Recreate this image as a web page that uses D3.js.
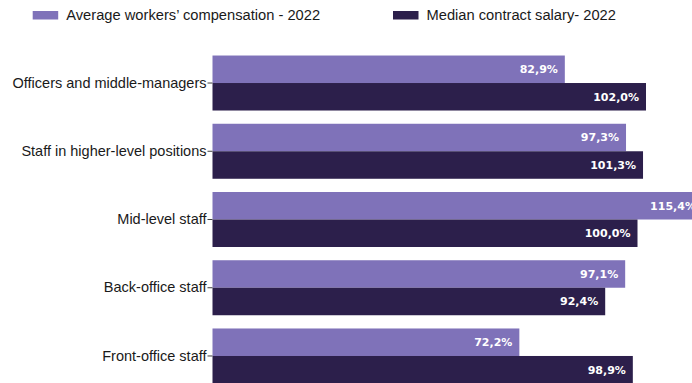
<!DOCTYPE html>
<html>
<head>
<meta charset="utf-8">
<script src="https://cdn.jsdelivr.net/npm/d3@7"></script>
<style>
  html, body { margin: 0; padding: 0; background: #fff; }
  svg { display: block; }
</style>
</head>
<body>
<div id="chart"></div>
<script>
// Role categories, top to bottom
const categories = [
  "Officers and middle-managers",
  "Staff in higher-level positions",
  "Mid-level staff",
  "Back-office staff",
  "Front-office staff"
];
// Series names (legend)
const seriesNames = [
  "Average workers’ compensation - 2022",
  "Median contract salary- 2022"
];
// Values in percent
const avgCompensation = [82.9, 97.3, 115.4, 97.1, 72.2];
const medianSalary    = [102.0, 101.3, 100.0, 92.4, 98.9];
const seriesColors = ["#7f72b9", "#2c1f4b"];

const W = 692, H = 383;
const svg = d3.select("#chart").append("svg")
  .attr("width", W).attr("height", H);

const data = categories.map((c, i) => ({
  cat: c, values: [avgCompensation[i], medianSalary[i]]
}));

const x = d3.scaleLinear().domain([0, 100]).range([212.5, 637.5]);

const y = d3.scaleBand()
  .domain(categories)
  .range([48.9, 390.1])
  .paddingInner(0.194)
  .paddingOuter(0.097);

const ySub = d3.scaleBand()
  .domain([0, 1])
  .range([0, y.bandwidth()]);

const fmt = v => d3.format(".1f")(v).replace(".", ",") + "%";

// Bars
const groups = svg.append("g").selectAll("g")
  .data(data).join("g")
  .attr("transform", d => `translate(0,${y(d.cat)})`);

groups.selectAll("rect")
  .data(d => d.values.map((v, k) => ({ v, k })))
  .join("rect")
  .attr("x", x(0))
  .attr("y", d => ySub(d.k))
  .attr("width", d => x(d.v) - x(0))
  .attr("height", ySub.bandwidth())
  .attr("fill", d => seriesColors[d.k]);

// Value labels inside bar ends
groups.selectAll("text")
  .data(d => d.values.map((v, k) => ({ v, k })))
  .join("text")
  .attr("x", d => x(d.v) - 7)
  .attr("y", d => ySub(d.k) + ySub.bandwidth() / 2)
  .attr("dy", "0.35em")
  .attr("text-anchor", "end")
  .attr("fill", "#ffffff")
  .attr("font-family", "DejaVu Sans, sans-serif")
  .attr("font-weight", "bold")
  .attr("font-size", "11px")
  .text(d => fmt(d.v));

// Category axis
const yAxis = svg.append("g")
  .attr("transform", `translate(${x(0)},0)`)
  .call(d3.axisLeft(y).tickSize(5).tickPadding(1));
yAxis.select(".domain").remove();
yAxis.selectAll(".tick line").attr("stroke", "#404040");
yAxis.selectAll(".tick text")
  .attr("font-family", "Liberation Sans, Arial, sans-serif")
  .attr("font-size", "14.5px")
  .attr("fill", "#1a1a1a");

// Legend
const legendX = [32.7, 393];
const legend = svg.append("g").selectAll("g")
  .data(seriesNames).join("g")
  .attr("transform", (d, i) => `translate(${legendX[i]},0)`);
legend.append("rect")
  .attr("x", 0).attr("y", 11)
  .attr("width", 25.5).attr("height", 8.5)
  .attr("fill", (d, i) => seriesColors[i]);
legend.append("text")
  .attr("x", 33.5).attr("y", 15.3)
  .attr("dy", "0.35em")
  .attr("font-family", "Liberation Sans, Arial, sans-serif")
  .attr("font-size", "14.7px")
  .attr("fill", "#1a1a1a")
  .text(d => d);
</script>
</body>
</html>
